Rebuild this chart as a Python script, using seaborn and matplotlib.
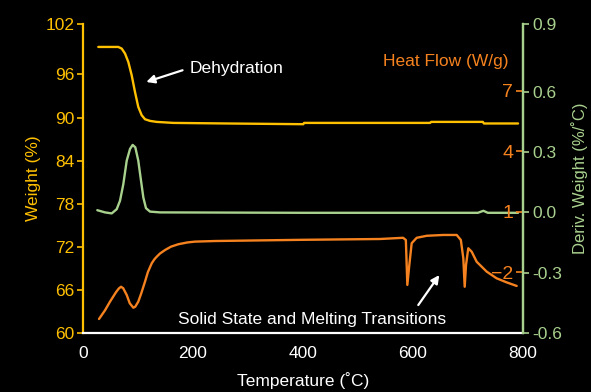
import numpy as np
import pandas as pd
import matplotlib
matplotlib.use('Agg')
import matplotlib.pyplot as plt
import seaborn as sns

# --- data ---
# weight loss (TGA)
temp_w = [27.8, 64.2, 70.4, 76.4, 82.4, 88.5, 94.5, 100.5, 106.7, 112.7, 121.8,
          134, 164.2, 261.3, 400.5, 402, 631, 633, 727, 729, 791]
weight = [99.81, 99.81, 99.58, 98.89, 97.72, 95.88, 93.56, 91.47, 90.32, 89.76, 89.53,
          89.39, 89.25, 89.17, 89.07, 89.25, 89.25, 89.39, 89.39, 89.17, 89.17]

# derivative weight
temp_d = [26, 40, 52.2, 61.3, 67.3, 73.3, 79.5, 85.5, 90.3, 95.1, 100.5, 105.5,
          109.7, 114.5, 121.8, 140, 400, 718, 728, 736, 791]
deriv = [0.011, 0.0, -0.005, 0.016, 0.058, 0.14, 0.257, 0.315, 0.335, 0.323, 0.257, 0.157,
         0.074, 0.021, 0.004, 0.0, -0.002, -0.002, 0.008, -0.002, -0.002]

# heat flow (DSC)
temp_h = [29.1, 40, 49.1, 60, 65, 69.1, 73, 79.5, 85, 91.5, 95, 100.5, 106, 112.7, 118,
          124.9, 130, 134, 140, 149, 160, 173.3, 190, 203.6, 240,
          400, 540, 582, 587, 589.7, 593.3, 597.6, 606.7, 625, 655, 679.5, 687, 691.5,
          694, 696.4, 700.5, 706.7, 715.8, 734, 752, 770, 788.5]
heat = [-4.33, -3.9, -3.47, -3.0, -2.82, -2.73, -2.8, -3.14, -3.55, -3.77, -3.72, -3.47, -3.05, -2.48, -2.0,
        -1.57, -1.36, -1.24, -1.08, -0.91, -0.74, -0.62, -0.53, -0.49, -0.46,
        -0.40, -0.36, -0.30, -0.41, -2.64, -1.65, -0.57, -0.30, -0.20, -0.16, -0.16, -0.41, -1.32,
        -2.73, -1.65, -0.82, -0.99, -1.49, -1.98, -2.31, -2.51, -2.69]

x_ticks = [0, 200, 400, 600, 800]
w_ticks = [60, 66, 72, 78, 84, 90, 96]
d_ticks = [-0.6, -0.3, 0.0, 0.3, 0.6]
d_labels = ['-0.6', '-0.3', '0.0', '0.3', '0.6']
h_ticks = [7, 4, 1, -2]

YELLOW = '#FFC000'
GREEN = '#A9D18E'
ORANGE = '#F5821F'

sns.set_theme(style='dark', rc={'axes.facecolor': 'black', 'figure.facecolor': 'black',
                                 'axes.grid': False})
plt.rcParams['font.family'] = ['Liberation Sans', 'DejaVu Sans']
plt.rcParams['font.size'] = 12

fig = plt.figure(figsize=(5.91, 3.92), dpi=100)
ax = fig.add_axes([83 / 591, 1 - 333.3 / 392, 440 / 591, 309.3 / 392])
ax2 = ax.twinx()
ax3 = ax.twinx()

df_w = pd.DataFrame({'T': temp_w, 'W': weight})
df_d = pd.DataFrame({'T': temp_d, 'D': deriv})
df_h = pd.DataFrame({'T': temp_h, 'H': heat})

sns.lineplot(data=df_w, x='T', y='W', ax=ax, color=YELLOW, lw=1.7, estimator=None)
sns.lineplot(data=df_d, x='T', y='D', ax=ax2, color=GREEN, lw=1.7, estimator=None)
sns.lineplot(data=df_h, x='T', y='H', ax=ax3, color=ORANGE, lw=1.7, estimator=None)

# x axis
ax.set_xlim(0, 800)
ax.set_xticks(x_ticks)
ax.set_xlabel('Temperature (˚C)', color='white', fontsize=12.5, labelpad=8)
ax.tick_params(axis='x', colors='white', labelsize=12.5, length=4, width=1.2, pad=5, direction='out')

# weight axis (top label sits at the end of the spine)
ax.set_ylim(60, 103)
ax.set_yticks(w_ticks + [103])
ax.set_yticklabels([str(t) for t in w_ticks] + ['102'])
ax.set_ylabel('Weight (%)', color=YELLOW, fontsize=12.5, labelpad=3)
ax.tick_params(axis='y', colors=YELLOW, labelcolor=YELLOW, labelsize=12.5, length=4, width=1.2, pad=2,
               direction='out', left=True)
for s in ['top', 'right']:
    ax.spines[s].set_visible(False)
ax.spines['bottom'].set_color('white')
ax.spines['bottom'].set_linewidth(1.6)
ax.spines['left'].set_color(YELLOW)
ax.spines['left'].set_linewidth(1.6)

# derivative axis
ax2.set_ylim(-0.6, 0.935)
ax2.set_yticks(d_ticks + [0.935])
ax2.set_yticklabels(d_labels + ['0.9'])
ax2.set_ylabel('Deriv. Weight (%/˚C)', color=GREEN, fontsize=12, labelpad=6)
ax2.tick_params(axis='y', colors=GREEN, labelcolor=GREEN, labelsize=12.5, length=4, width=1.2, pad=3,
                direction='out', right=True)
for s in ['top', 'left', 'bottom']:
    ax2.spines[s].set_visible(False)
ax2.spines['right'].set_color(GREEN)
ax2.spines['right'].set_linewidth(1.6)

# heat flow axis, labels on the inner side of the right spine
ax3.set_ylim(-5.04, 10.31)
ax3.yaxis.tick_left()
ax3.spines['left'].set_position(('axes', 1.0))
ax3.set_yticks(h_ticks)
ax3.tick_params(axis='y', colors=ORANGE, labelcolor=ORANGE, labelsize=14, length=5, width=1.2, pad=2,
                direction='out', left=True)
for s in ['top', 'right', 'bottom']:
    ax3.spines[s].set_visible(False)
ax3.spines['left'].set_color(GREEN)
ax3.spines['left'].set_linewidth(1.6)
ax3.set_ylabel('')
ax.set_facecolor('black')
ax2.patch.set_visible(False)
ax3.patch.set_visible(False)

ax3.text(0.966, 0.878, 'Heat Flow (W/g)', transform=ax.transAxes, ha='right', va='center',
         color=ORANGE, fontsize=12.5)

# annotations
arrow = dict(arrowstyle='-|>', color='white', lw=1.6, mutation_scale=12, shrinkA=0, shrinkB=0)
ax.annotate('', xy=(115, 94.94), xytext=(181, 96.57), arrowprops=arrow)
ax.text(194.5, 96.8, 'Dehydration', color='white', ha='left', va='center', fontsize=12.5)
ax.annotate('', xy=(647.8, 68.1), xytext=(609.6, 63.93), arrowprops=arrow)
ax.text(417, 61.85, 'Solid State and Melting Transitions', color='white', ha='center', va='center',
        fontsize=12.5)

fig.savefig('out.png', dpi=100, facecolor='black')
